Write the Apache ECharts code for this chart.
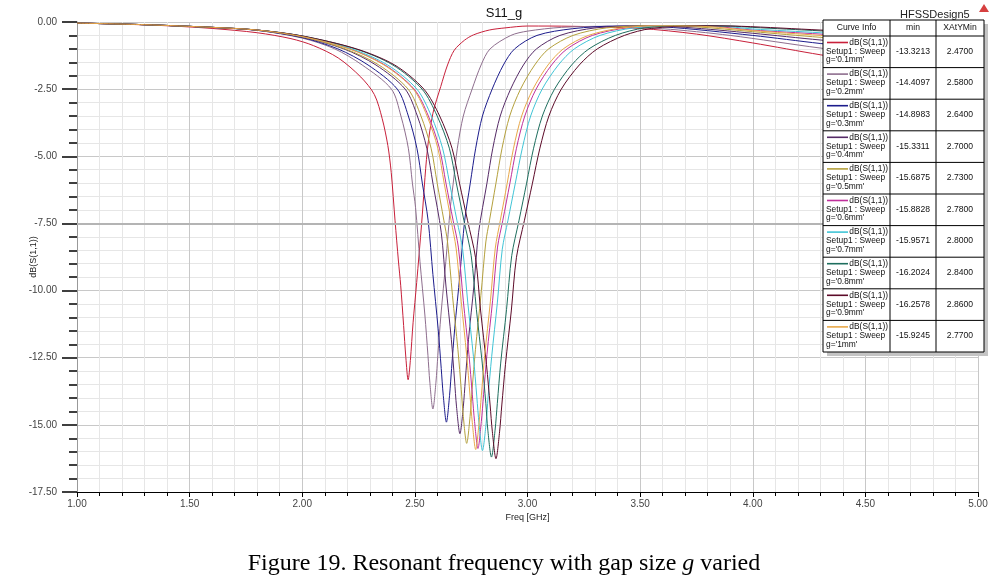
<!DOCTYPE html>
<html><head><meta charset="utf-8">
<script src="https://cdn.jsdelivr.net/npm/echarts/dist/echarts.min.js"></script>
<style>html,body{margin:0;padding:0;background:#fff}#c{width:1008px;height:577px}</style>
</head><body><div id="c"></div>
<script>
// ---- data ----
const curveNames = ["g='0.1mm'", "g='0.2mm'", "g='0.3mm'", "g='0.4mm'", "g='0.5mm'", "g='0.6mm'", "g='0.7mm'", "g='0.8mm'", "g='0.9mm'", "g='1mm'"];
const minValues = ["-13.3213", "-14.4097", "-14.8983", "-15.3311", "-15.6875", "-15.8828", "-15.9571", "-16.2024", "-16.2578", "-15.9245"];
const xAtYMin = ["2.4700", "2.5800", "2.6400", "2.7000", "2.7300", "2.7800", "2.8000", "2.8400", "2.8600", "2.7700"];
const colors = ['#c8203a', '#8e6e8e', '#1c1c8c', '#552a66', '#b4a03c', '#c0309c', '#40c4d6', '#1e6e5e', '#5c0a28', '#e8a848'];

const g01 = [[1.0,-0.04],[1.2,-0.08],[1.4,-0.14],[1.6,-0.24],[1.8,-0.4],[1.95,-0.62],[2.05,-0.88],[2.16,-1.34],[2.26,-2.05],[2.32,-2.7],[2.355,-3.6],[2.38,-4.6],[2.395,-5.6],[2.412,-7.4],[2.427,-8.9],[2.437,-9.8],[2.45,-11.3],[2.46,-12.5],[2.47,-13.32],[2.48,-12.6],[2.492,-11.2],[2.508,-9.7],[2.53,-7.5],[2.555,-4.8],[2.58,-3.4],[2.615,-2.4],[2.645,-1.6],[2.675,-1.05],[2.72,-0.68],[2.76,-0.48],[2.83,-0.3],[2.9,-0.22],[3.0,-0.15],[3.2,-0.16],[3.5,-0.24],[3.75,-0.45],[4.0,-0.78],[4.3,-1.22],[4.6,-1.6],[5.0,-2.05]];
const g02 = [[1.0,-0.04],[1.3,-0.1],[1.6,-0.2],[1.8,-0.31],[2.0,-0.6],[2.144,-1.0],[2.266,-1.6],[2.396,-2.5],[2.438,-3.5],[2.471,-4.7],[2.489,-6.0],[2.503,-6.91],[2.5225,-8.91],[2.5444,-10.91],[2.558,-12.41],[2.5664,-13.41],[2.58,-14.41],[2.5936,-13.41],[2.602,-12.41],[2.6156,-10.91],[2.6375,-8.91],[2.6574,-6.91],[2.6703,-6.0],[2.6886,-4.7],[2.715,-3.5],[2.754,-2.5],[2.794,-1.6],[2.834,-1.0],[2.926,-0.5],[3.0,-0.34],[3.15,-0.2],[3.35,-0.16],[3.6,-0.25],[3.9,-0.5],[4.3,-0.97],[4.6,-1.25],[5.0,-1.65]];
const g03 = [[1.0,-0.04],[1.3,-0.1],[1.6,-0.2],[1.8,-0.31],[2.0,-0.58],[2.158,-1.0],[2.292,-1.6],[2.422,-2.5],[2.471,-3.5],[2.509,-4.7],[2.533,-6.0],[2.559,-7.4],[2.58,-9.4],[2.603,-11.4],[2.617,-12.9],[2.626,-13.9],[2.64,-14.9],[2.654,-13.9],[2.663,-12.9],[2.677,-11.4],[2.7,-9.4],[2.721,-7.4],[2.746,-6.0],[2.77,-4.7],[2.8,-3.5],[2.843,-2.5],[2.893,-1.6],[2.943,-1.0],[3.042,-0.5],[3.2,-0.25],[3.4,-0.15],[3.6,-0.18],[4.0,-0.5],[4.3,-0.8],[4.6,-1.05],[5.0,-1.4]];
const g04 = [[1.0,-0.04],[1.3,-0.1],[1.6,-0.2],[1.8,-0.3],[2.0,-0.56],[2.184,-1.0],[2.327,-1.6],[2.457,-2.5],[2.511,-3.5],[2.553,-4.7],[2.58,-6.0],[2.617,-7.83],[2.638,-9.83],[2.662,-11.83],[2.676,-13.33],[2.685,-14.33],[2.7,-15.33],[2.715,-14.33],[2.724,-13.33],[2.738,-11.83],[2.762,-9.83],[2.783,-7.83],[2.82,-6.0],[2.846,-4.7],[2.879,-3.5],[2.925,-2.5],[2.982,-1.6],[3.04,-1.0],[3.144,-0.5],[3.3,-0.22],[3.5,-0.14],[3.7,-0.2],[4.0,-0.42],[4.3,-0.67],[4.6,-0.88],[5.0,-1.2]];
const g05 = [[1.0,-0.04],[1.3,-0.1],[1.6,-0.2],[1.8,-0.3],[2.0,-0.55],[2.19,-1.0],[2.34,-1.6],[2.47,-2.5],[2.527,-3.5],[2.572,-4.7],[2.599,-6.0],[2.629,-7.4],[2.645,-8.19],[2.667,-10.19],[2.691,-12.19],[2.706,-13.69],[2.715,-14.69],[2.73,-15.69],[2.745,-14.69],[2.754,-13.69],[2.769,-12.19],[2.793,-10.19],[2.815,-8.19],[2.831,-7.4],[2.86,-6.0],[2.887,-4.7],[2.921,-3.5],[2.969,-2.5],[3.032,-1.6],[3.094,-1.0],[3.202,-0.5],[3.35,-0.22],[3.55,-0.14],[3.75,-0.18],[4.0,-0.36],[4.3,-0.57],[4.6,-0.76],[5.0,-1.05]];
const g06 = [[1.0,-0.04],[1.3,-0.1],[1.6,-0.2],[1.8,-0.3],[2.0,-0.53],[2.211,-1.0],[2.367,-1.6],[2.497,-2.5],[2.56,-3.5],[2.609,-4.7],[2.638,-6.0],[2.67,-7.4],[2.693,-8.38],[2.715,-10.38],[2.74,-12.38],[2.755,-13.88],[2.765,-14.88],[2.78,-15.88],[2.795,-14.88],[2.805,-13.88],[2.82,-12.38],[2.845,-10.38],[2.867,-8.38],[2.89,-7.4],[2.922,-6.0],[2.951,-4.7],[2.988,-3.5],[3.038,-2.5],[3.107,-1.6],[3.176,-1.0],[3.288,-0.5],[3.44,-0.22],[3.62,-0.14],[3.82,-0.16],[4.0,-0.3],[4.3,-0.45],[4.6,-0.62],[5.0,-0.88]];
const g07 = [[1.0,-0.04],[1.3,-0.1],[1.6,-0.2],[1.8,-0.3],[2.0,-0.53],[2.219,-1.0],[2.379,-1.6],[2.509,-2.5],[2.573,-3.5],[2.623,-4.7],[2.654,-6.0],[2.687,-7.4],[2.712,-8.46],[2.735,-10.46],[2.76,-12.46],[2.775,-13.96],[2.785,-14.96],[2.8,-15.96],[2.816,-14.96],[2.825,-13.96],[2.841,-12.46],[2.866,-10.46],[2.888,-8.46],[2.913,-7.4],[2.946,-6.0],[2.977,-4.7],[3.014,-3.5],[3.065,-2.5],[3.137,-1.6],[3.208,-1.0],[3.322,-0.5],[3.47,-0.22],[3.65,-0.14],[3.85,-0.15],[4.0,-0.26],[4.3,-0.4],[4.6,-0.56],[5.0,-0.8]];
const g08 = [[1.0,-0.04],[1.3,-0.1],[1.6,-0.2],[1.8,-0.3],[2.0,-0.52],[2.236,-1.0],[2.402,-1.6],[2.532,-2.5],[2.599,-3.5],[2.653,-4.7],[2.684,-6.0],[2.718,-7.4],[2.75,-8.7],[2.773,-10.7],[2.799,-12.7],[2.815,-14.2],[2.824,-15.2],[2.84,-16.2],[2.856,-15.2],[2.866,-14.2],[2.881,-12.7],[2.907,-10.7],[2.93,-8.7],[2.962,-7.4],[2.996,-6.0],[3.027,-4.7],[3.066,-3.5],[3.12,-2.5],[3.196,-1.6],[3.273,-1.0],[3.39,-0.5],[3.52,-0.22],[3.7,-0.14],[3.9,-0.15],[4.0,-0.2],[4.3,-0.33],[4.6,-0.47],[5.0,-0.68]];
const g09 = [[1.0,-0.04],[1.3,-0.1],[1.6,-0.2],[1.8,-0.3],[2.0,-0.52],[2.24,-1.0],[2.41,-1.6],[2.54,-2.5],[2.61,-3.5],[2.665,-4.7],[2.698,-6.0],[2.734,-7.4],[2.769,-8.76],[2.792,-10.76],[2.818,-12.76],[2.834,-14.26],[2.844,-15.26],[2.86,-16.26],[2.876,-15.26],[2.886,-14.26],[2.902,-12.76],[2.928,-10.76],[2.951,-8.76],[2.986,-7.4],[3.022,-6.0],[3.055,-4.7],[3.095,-3.5],[3.15,-2.5],[3.23,-1.6],[3.31,-1.0],[3.43,-0.5],[3.55,-0.24],[3.75,-0.14],[3.95,-0.16],[4.3,-0.3],[4.6,-0.42],[5.0,-0.62]];
const g10 = [[1.0,-0.04],[1.3,-0.1],[1.6,-0.2],[1.8,-0.3],[2.0,-0.54],[2.208,-1.0],[2.363,-1.6],[2.493,-2.5],[2.554,-3.5],[2.602,-4.7],[2.63,-6.0],[2.661,-7.4],[2.683,-8.42],[2.706,-10.42],[2.73,-12.42],[2.745,-13.92],[2.755,-14.92],[2.77,-15.92],[2.785,-14.92],[2.795,-13.92],[2.81,-12.42],[2.835,-10.42],[2.857,-8.42],[2.879,-7.4],[2.91,-6.0],[2.938,-4.7],[2.974,-3.5],[3.024,-2.5],[3.091,-1.6],[3.159,-1.0],[3.27,-0.5],[3.42,-0.22],[3.6,-0.14],[3.8,-0.17],[4.0,-0.32],[4.3,-0.5],[4.6,-0.68],[5.0,-0.95]];
const curves = [g01, g02, g03, g04, g05, g06, g07, g08, g09, g10];

// ---- chart ----
const FONT = 'Liberation Sans, Arial, sans-serif';
const SERIF = 'Liberation Serif, Times New Roman, serif';
const chart = echarts.init(document.getElementById('c'), null, {renderer: 'canvas'});

const series = curves.map((d, i) => ({
  name: curveNames[i], type: 'line', data: d, showSymbol: false, smooth: 0.3,
  lineStyle: {width: 1, color: colors[i]}, itemStyle: {color: colors[i]},
  silent: true, z: 3
}));
series.unshift({
  type: 'line', data: [], z: 1, silent: true,
  markLine: {silent: true, symbol: 'none', label: {show: false}, animation: false,
    lineStyle: {color: '#b4b4b4', width: 2, type: 'solid'}, data: [{yAxis: -7.5}]}
});

// legend table drawn with graphic elements
const TX = 823, TY = 20, TW = 161, HH = 16, RH = 31.6, C1 = 890, C2 = 936;
const TH = HH + RH * curveNames.length;
const gfx = [];
gfx.push({type: 'rect', shape: {x: TX + 4, y: TY + 4, width: TW, height: TH}, style: {fill: '#c4c4c4'}, z: 100});
gfx.push({type: 'rect', shape: {x: TX, y: TY, width: TW, height: TH}, style: {fill: '#fff', stroke: '#000', lineWidth: 1}, z: 101});
gfx.push({type: 'line', shape: {x1: C1, y1: TY, x2: C1, y2: TY + TH}, style: {stroke: '#000', lineWidth: 1}, z: 102});
gfx.push({type: 'line', shape: {x1: C2, y1: TY, x2: C2, y2: TY + TH}, style: {stroke: '#000', lineWidth: 1}, z: 102});
const txt = (t, x, y, align, size) => ({type: 'text', z: 103, style: {text: t, x: x, y: y, fill: '#111', font: (size || 8.4) + 'px ' + FONT, textAlign: align, align: align, textVerticalAlign: 'middle', verticalAlign: 'middle'}});
gfx.push(txt('Curve Info', (TX + C1) / 2, TY + 8, 'center', 8.6));
gfx.push(txt('min', (C1 + C2) / 2, TY + 8, 'center', 8.6));
gfx.push(txt('XAtYMin', (C2 + TX + TW) / 2, TY + 8, 'center', 8.6));
curveNames.forEach((n, i) => {
  const top = TY + HH + RH * i;
  gfx.push({type: 'line', shape: {x1: TX, y1: top, x2: TX + TW, y2: top}, style: {stroke: '#000', lineWidth: 1}, z: 102});
  gfx.push({type: 'line', shape: {x1: 827, y1: top + 6.5, x2: 848, y2: top + 6.5}, style: {stroke: colors[i], lineWidth: 1.6}, z: 102});
  gfx.push(txt('dB(S(1,1))', 888, top + 6.5, 'right'));
  gfx.push(txt('Setup1 : Sweep', 826, top + 15.5, 'left'));
  gfx.push(txt(n, 826, top + 24, 'left'));
  gfx.push(txt(minValues[i], (C1 + C2) / 2, top + 15.5, 'center', 8.6));
  gfx.push(txt(xAtYMin[i], (C2 + TX + TW) / 2, top + 15.5, 'center', 8.6));
});
gfx.push({type: 'polygon', shape: {points: [[979, 12], [984, 4], [989, 12]]}, style: {fill: '#d64040'}, z: 103});

chart.setOption({
  animation: false,
  backgroundColor: '#fff',
  title: [
    {text: 'S11_g', left: 'center', top: 2, textStyle: {fontSize: 13, fontWeight: 'normal', color: '#111', fontFamily: FONT}},
    {text: 'HFSSDesign5', left: 895, top: 4, textStyle: {fontSize: 11, fontWeight: 'normal', color: '#222', fontFamily: FONT}},
    {text: '{a|Figure 19. Resonant frequency with gap size }{i|g}{a| varied}', left: 'center', top: 547,
     textStyle: {fontWeight: 'normal', rich: {
       a: {fontSize: 24, fontFamily: SERIF, fontWeight: 'normal', color: '#000'},
       i: {fontSize: 24, fontFamily: SERIF, fontStyle: 'italic', fontWeight: 'normal', color: '#000'}}}}
  ],
  grid: {left: 77, right: 30, top: 22, bottom: 85, containLabel: false},
  xAxis: {
    type: 'value', min: 1, max: 5, interval: 0.5,
    name: 'Freq [GHz]', nameLocation: 'middle', nameGap: 21, nameMoveOverlap: false,
    nameTextStyle: {fontSize: 9, color: '#222', fontFamily: FONT},
    axisLine: {show: true, onZero: false, lineStyle: {color: '#000', width: 1}},
    axisTick: {show: true, inside: false, length: 5, lineStyle: {color: '#000', width: 1}},
    minorTick: {show: true, splitNumber: 5, length: 4, lineStyle: {color: '#000', width: 1}},
    splitLine: {show: true, lineStyle: {color: '#c8c8c8', width: 1}},
    minorSplitLine: {show: true, lineStyle: {color: '#e6e6e6', width: 1}},
    axisLabel: {formatter: v => v.toFixed(2), fontSize: 10, color: '#444', margin: 7, fontFamily: FONT, showMinLabel: true, showMaxLabel: true, hideOverlap: false}
  },
  yAxis: {
    type: 'value', min: -17.5, max: 0, interval: 2.5,
    name: 'dB(S(1,1))', nameLocation: 'middle', nameGap: 39, nameRotate: 90, nameMoveOverlap: false,
    nameTextStyle: {fontSize: 9, color: '#222', fontFamily: FONT},
    axisLine: {show: true, onZero: false, lineStyle: {color: '#999', width: 1}},
    axisTick: {show: true, length: 15, lineStyle: {color: '#000', width: 1.5}},
    minorTick: {show: true, splitNumber: 5, length: 8, lineStyle: {color: '#000', width: 1.5}},
    splitLine: {show: true, lineStyle: {color: '#c8c8c8', width: 1}},
    minorSplitLine: {show: true, lineStyle: {color: '#e6e6e6', width: 1}},
    axisLabel: {formatter: v => v.toFixed(2), fontSize: 10, color: '#444', margin: 20, fontFamily: FONT, showMinLabel: true, showMaxLabel: true, hideOverlap: false}
  },
  series: series,
  graphic: gfx
});
</script>
</body></html>
